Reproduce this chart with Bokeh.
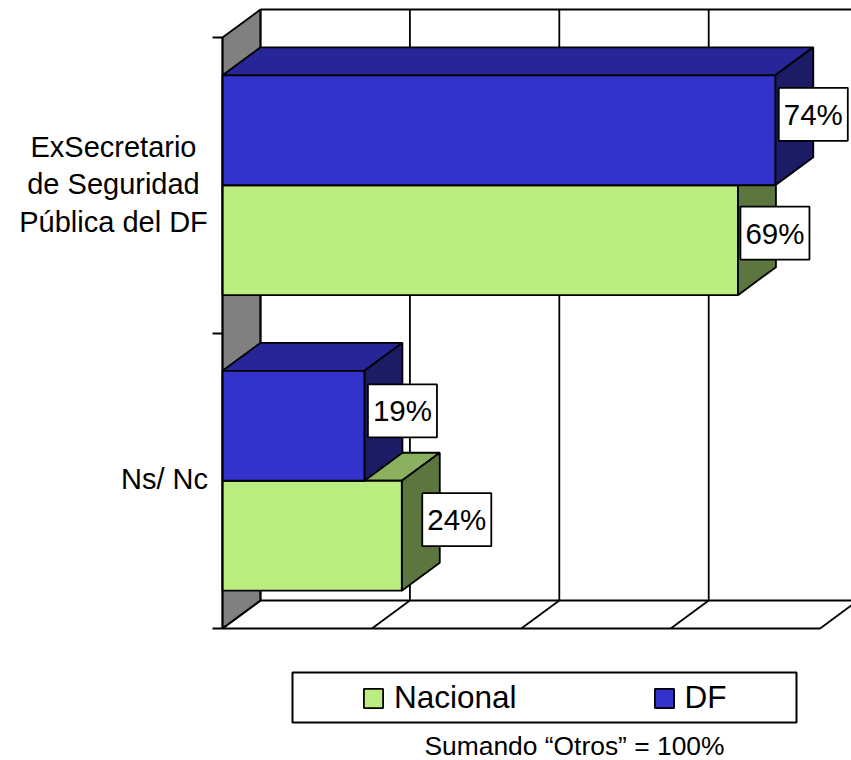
from bokeh.plotting import figure
from bokeh.models import Legend, LegendItem, BoxAnnotation, Label, LinearAxis, FixedTicker, Range1d
from bokeh.core.properties import value
from bokeh.embed import file_html
from bokeh.resources import INLINE

categories = ["Ns/ Nc", "ExSecretario\nde Seguridad\nPública del DF"]
nacional = [24, 69]
df_vals = [19, 74]
x_grid = [0, 20, 40, 60, 80, 100]
series_names = ["Nacional", "DF"]

W, H = 851, 760
FONT = "Liberation Sans"
PX_PER_PCT = 7.47
PX_PER_CAT = 295.5
X0_PX, Y0_PX = 222, 628
DEPTH_X = 38 / PX_PER_PCT
DEPTH_Y = 28 / PX_PER_CAT
BAR_H = 0.372
LW = 1.8

BLUE, BLUE_TOP, BLUE_SIDE = "#3333CC", "#262699", "#1B1B66"
GREEN, GREEN_TOP, GREEN_SIDE = "#BAEC80", "#8BB05F", "#5C763F"

p = figure(width=W, height=H, output_backend="svg", toolbar_location=None,
           x_range=Range1d(-X0_PX / PX_PER_PCT, (W - X0_PX) / PX_PER_PCT),
           y_range=Range1d((Y0_PX - H) / PX_PER_CAT, Y0_PX / PX_PER_CAT),
           min_border=0, x_axis_type=None, y_axis_type=None,
           outline_line_color=None, background_fill_color="white")
p.grid.visible = False


def X(px):
    return (px - X0_PX) / PX_PER_PCT


def Y(py):
    return (Y0_PX - py) / PX_PER_CAT


# category axis with ticks at the band limits
yaxis = LinearAxis(fixed_location=0, bounds=(0, 2),
                   ticker=FixedTicker(ticks=[], minor_ticks=[0, 1, 2]),
                   axis_line_color="black", axis_line_width=LW,
                   minor_tick_line_color="black", minor_tick_line_width=LW,
                   minor_tick_in=0, minor_tick_out=10,
                   major_label_text_color=None)
p.add_layout(yaxis, "left")

xmax = x_grid[-2]
# side wall
p.patch([0, DEPTH_X, DEPTH_X, 0], [0, DEPTH_Y, 2 + DEPTH_Y, 2], fill_color="#808080",
        line_color="black", line_width=LW)
# back wall and floor lines
p.segment(x0=[g + DEPTH_X for g in x_grid[:-1]], y0=[DEPTH_Y] * 5,
          x1=[g + DEPTH_X for g in x_grid[:-1]], y1=[2 + DEPTH_Y] * 5,
          line_color="black", line_width=LW)
p.segment(x0=[DEPTH_X, DEPTH_X], y0=[DEPTH_Y, 2 + DEPTH_Y], x1=[xmax + DEPTH_X] * 2, y1=[DEPTH_Y, 2 + DEPTH_Y],
          line_color="black", line_width=LW)
p.segment(x0=x_grid[:-1], y0=[0] * 5, x1=[g + DEPTH_X for g in x_grid[:-1]], y1=[DEPTH_Y] * 5,
          line_color="black", line_width=LW)
p.segment(x0=[0], y0=[0], x1=[xmax], y1=[0], line_color="black", line_width=LW)


def bars(vals, bottoms, front, top, side):
    xs_top, ys_top, xs_side, ys_side, xs_f, ys_f = [], [], [], [], [], []
    for v, b in zip(vals, bottoms):
        t = b + BAR_H
        xs_top.append([0, v, v + DEPTH_X, DEPTH_X])
        ys_top.append([t, t, t + DEPTH_Y, t + DEPTH_Y])
        xs_side.append([v, v + DEPTH_X, v + DEPTH_X, v])
        ys_side.append([b, b + DEPTH_Y, t + DEPTH_Y, t])
        xs_f.append([0, v, v, 0])
        ys_f.append([b, b, t, t])
    kw = dict(line_color="black", line_width=LW)
    p.patches(xs_top, ys_top, fill_color=top, **kw)
    p.patches(xs_side, ys_side, fill_color=side, **kw)
    return p.patches(xs_f, ys_f, fill_color=front, **kw)


centers = [i + 0.5 for i in range(len(categories))]
r_green = bars(nacional, [c - BAR_H for c in centers], GREEN, GREEN_TOP, GREEN_SIDE)
r_blue = bars(df_vals, centers, BLUE, BLUE_TOP, BLUE_SIDE)

# category labels
p.text(x=[0, 0], y=centers, text=categories, x_offset=[-58, -109], y_offset=[-2, -1],
       text_align="center", text_baseline="middle", text_font=value(FONT),
       text_font_size="29px", text_line_height=1.17, text_color="black")

# data labels
lab_x = nacional + df_vals
lab_y = [c - BAR_H / 2 for c in centers] + [c + BAR_H / 2 for c in centers]
lab_dx = [55, 37, 38, 38]
lab_dy = [-16, -7, -15, -16]
p.text(x=lab_x, y=lab_y, text=[f"{v}%" for v in lab_x], x_offset=lab_dx, y_offset=lab_dy,
       text_align="center", text_baseline="middle", text_font=value(FONT),
       text_font_size="29.5px", text_color="black",
       background_fill_color="white", border_line_color="black", border_line_width=LW,
       padding=(5, 10))

# legend
box = BoxAnnotation(left=X(292), right=X(796), top=Y(672), bottom=Y(722),
                    fill_color="white", fill_alpha=1, line_color="black", line_alpha=1,
                    line_width=2, level="overlay")
p.add_layout(box)
legend = Legend(items=[LegendItem(label=series_names[0], renderers=[r_green]),
                       LegendItem(label=series_names[1], renderers=[r_blue])],
                orientation="horizontal", location=(361, 44), border_line_color=None,
                background_fill_alpha=0, padding=4, margin=0, spacing=135, glyph_width=24, glyph_height=24,
                label_standoff=9, label_text_font=FONT, label_text_font_size="31.5px", label_text_color="black")
p.add_layout(legend)

p.add_layout(Label(x=X(424), y=Y(760), text="Sumando “Otros” = 100%", text_font=FONT,
                   text_font_size="26.4px", text_color="black"))

open("out.html", "w").write(file_html(p, INLINE))
